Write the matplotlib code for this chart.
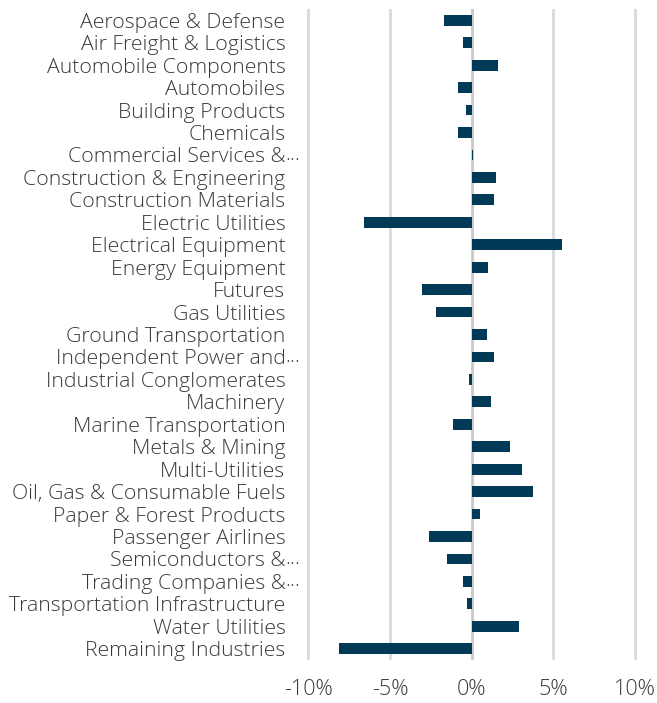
import numpy as np
import matplotlib.pyplot as plt

plt.rcParams['font.family'] = ['Open Sans', 'DejaVu Sans']
plt.rcParams['font.weight'] = 'light'

industries = [
    "Aerospace & Defense", "Air Freight & Logistics", "Automobile Components",
    "Automobiles", "Building Products", "Chemicals", "Commercial Services &",
    "Construction & Engineering", "Construction Materials", "Electric Utilities",
    "Electrical Equipment", "Energy Equipment", "Futures", "Gas Utilities",
    "Ground Transportation", "Independent Power and", "Industrial Conglomerates",
    "Machinery", "Marine Transportation", "Metals & Mining", "Multi-Utilities",
    "Oil, Gas & Consumable Fuels", "Paper & Forest Products", "Passenger Airlines",
    "Semiconductors &", "Trading Companies &", "Transportation Infrastructure",
    "Water Utilities", "Remaining Industries",
]
truncated = [False, False, False, False, False, False, True, False, False, False,
             False, False, False, False, False, True, False, False, False, False,
             False, False, False, False, True, True, False, False, False]
values = [-1.68, -0.55, 1.63, -0.82, -0.35, -0.84, 0.08, 1.49, 1.39, -6.6,
          5.55, 1.04, -3.06, -2.17, 0.92, 1.39, -0.16, 1.2, -1.14, 2.38,
          3.1, 3.78, 0.55, -2.6, -1.51, -0.55, -0.29, 2.88, -8.12]
xticks = [-10, -5, 0, 5, 10]

text_color = '#3a3a3a'
bar_color = '#003a56'
label_size = 15.3
label_pad = 10.5

fig = plt.figure(figsize=(6.57, 7.03), dpi=100)
ax = fig.add_axes([300 / 657, 1 - 660 / 703, 343 / 657, 651 / 703])

y = np.arange(len(industries))
ax.barh(y, values, height=0.48, color=bar_color, zorder=3)

ax.set_xlim(-10.5, 10.5)
ax.set_ylim(len(industries) - 0.5, -0.5)
ax.set_yticks(y)
ax.set_yticklabels(industries, fontsize=label_size, color=text_color)
ax.set_xticks(xticks)
ax.set_xticklabels([f"{t}%" for t in xticks], fontsize=15.5, color=text_color)
ax.tick_params(axis='y', length=0, pad=label_pad)
ax.tick_params(axis='x', length=0, pad=14)

for t in xticks:
    ax.axvline(t, color='#c9c9c9' if t == 0 else '#d3dbe1', lw=2, zorder=1)

for s in ax.spines.values():
    s.set_visible(False)

# overflowing dots after cut-off names
for i, tr in enumerate(truncated):
    if tr:
        ax.annotate("...", xy=(0, i), xycoords=('axes fraction', 'data'),
                    xytext=(-label_pad, 0), textcoords='offset points',
                    ha='left', va='center', fontsize=label_size, color=text_color)

fig.savefig('out.png', dpi=100)
